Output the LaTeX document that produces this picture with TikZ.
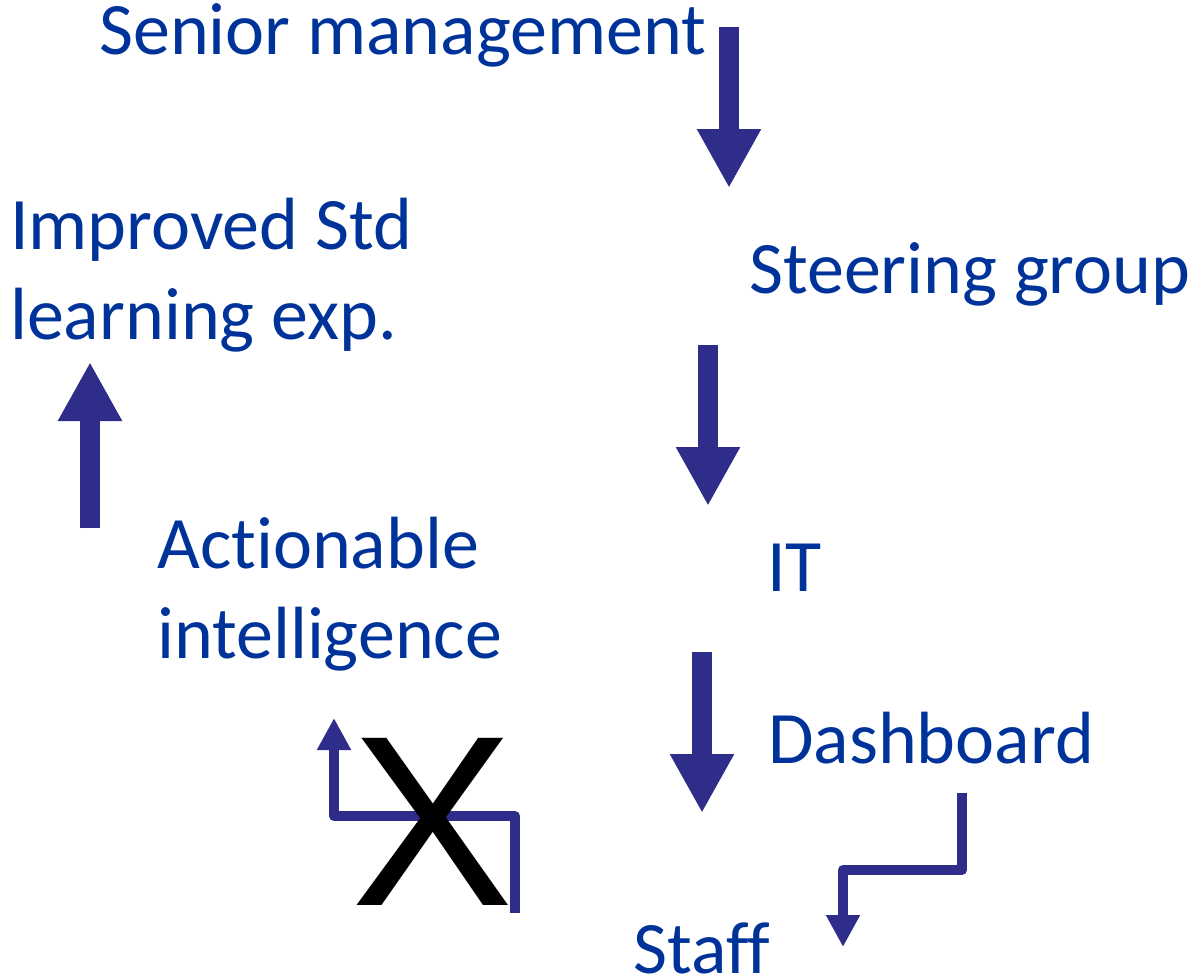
\documentclass[tikz,border=0pt]{standalone}
\usepackage{fontspec}
\setmainfont[Ligatures=NoCommon]{Carlito}
\newfontfamily\croce{Liberation Sans}
\usetikzlibrary{arrows.meta}

\definecolor{testo}{RGB}{0,51,153}
\definecolor{freccia}{RGB}{46,46,138}

\tikzset{
    etichetta/.style={text=testo, anchor=base west, inner sep=0pt, align=left,
        font=\fontsize{74}{90}\selectfont},
    freccia grande/.style={draw=freccia, line width=20pt,
        -{Triangle[length=59pt,width=60pt]}},
    freccia sottile/.style={draw=freccia, line width=10pt, line join=round,
        -{Triangle[length=32pt,width=32pt]}},
}

\begin{document}
\begin{tikzpicture}[x=1pt,y=-1pt]
        % Area del disegno
        \useasboundingbox (0,0) rectangle (1197,980);

        % Etichette (per due righe la base e' l'ultima riga)
        \node[etichetta] (senior) at (99,54) {Senior management};
        \node[etichetta] (steering) at (749,293) {Steering group};
        \node[etichetta] (std) at (10,339) {Improved Std\\learning exp.};
        \node[etichetta] (action) at (157,658) {Actionable\\intelligence};
        \node[etichetta] (it) at (767,591) {IT};
        \node[etichetta] (dash) at (768,763) {Dashboard};
        \node[etichetta] (staff) at (633,973) {Staff};

        % Frecce grandi
        \coordinate (a1) at (729,27);  \coordinate (b1) at (729,188);
        \coordinate (a2) at (708,345); \coordinate (b2) at (708,506);
        \coordinate (a3) at (702,652); \coordinate (b3) at (702,813);
        \coordinate (a4) at (90,528);  \coordinate (b4) at (90,362);
        \draw[freccia grande] (a1) -- (b1);
        \draw[freccia grande] (a2) -- (b2);
        \draw[freccia grande] (a3) -- (b3);
        \draw[freccia grande] (a4) -- (b4);

        % Frecce a gomito
        \coordinate (d1) at (962,793); \coordinate (d2) at (843,947);
        \draw[freccia sottile] (d1) |- (843,870) -- (d2);
        \coordinate (x1) at (515,913); \coordinate (x2) at (334,718);
        \draw[freccia sottile] (x1) |- (334,816) -- (x2);

        % La croce
        \node[anchor=base, inner sep=0pt, font=\croce\fontsize{243}{250}\selectfont] (croce) at (433,905) {X};
\end{tikzpicture}
\end{document}
